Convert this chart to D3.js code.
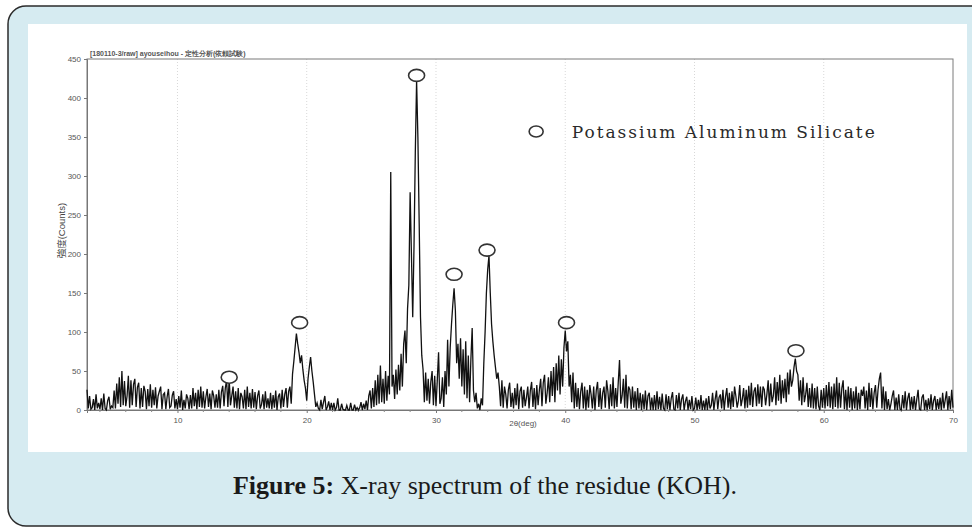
<!DOCTYPE html>
<html>
<head>
<meta charset="utf-8">
<script src="https://cdn.jsdelivr.net/npm/d3@7"></script>
<style>
  html, body { margin: 0; padding: 0; background: #fff; }
  svg { display: block; }
</style>
</head>
<body>
<svg id="fig" width="972" height="529"></svg>
<script>
// 2-theta scan, 3..70 deg, one row per degree (x.0 .. x.9)
var startDeg = 3, stepDeg = 0.1;
var counts = [
  [26,2,18,1,3,14,0,20,2,9],          // 3
  [1,15,0,21,2,0,12,17,1,5],          // 4
  [3,25,2,34,8,42,4,50,6,37],         // 5
  [5,18,44,3,38,6,33,40,4,29],        // 6
  [35,2,28,4,31,24,1,27,5,33],        // 7
  [3,26,6,29,2,18,24,30,1,20],        // 8
  [22,1,17,27,3,5,19,24,2,14],        // 9
  [1,18,3,25,0,13,2,20,15,1],         // 10
  [19,2,28,5,22,1,26,4,30,3],         // 11
  [24,2,17,27,4,21,1,25,18,3],        // 12
  [20,3,26,2,23,31,5,28,38,4],        // 13
  [40,6,18,30,3,24,2,28,1,22],        // 14
  [17,2,26,1,30,4,22,2,27,3],         // 15
  [23,1,18,25,2,7,20,1,24,3],         // 16
  [15,2,22,1,19,3,25,0,17,21],        // 17
  [2,26,4,20,28,3,24,30,8,46],        // 18
  [62,80,98,85,74,60,70,52,38,28],    // 19
  [12,40,55,68,50,36,20,4,9,2],       // 20
  [0,13,1,10,18,0,4,11,0,9],          // 21
  [0,9,0,3,15,0,0,8,1,0],             // 22
  [0,6,0,0,9,0,0,7,0,3],              // 23
  [0,3,10,0,8,1,12,0,18,25],          // 24
  [2,28,4,38,6,45,8,57,10,40],        // 25
  [8,50,12,44,20,305,30,45,14,52],    // 26
  [20,58,25,72,30,85,102,60,130,160], // 27
  [279,200,119,210,330,422,350,240,120,70], // 28
  [52,10,48,12,40,8,36,50,6,44],      // 29
  [5,38,74,8,15,42,4,50,20,90],       // 30
  [30,80,110,135,156,128,60,85,40,92],// 31
  [30,78,20,88,15,70,10,65,105,25],   // 32
  [10,22,2,8,0,15,6,60,100,150],      // 33
  [180,198,150,110,88,70,55,40,48,30],// 34
  [5,38,3,30,20,2,26,35,4,22],        // 35
  [2,28,6,34,1,24,30,3,26,5],         // 36
  [16,30,2,25,36,4,28,1,32,6],        // 37
  [26,40,5,35,45,8,22,42,10,50],      // 38
  [18,55,10,60,25,70,20,65,30,80],    // 39
  [102,75,88,30,45,10,48,2,35,4],     // 40
  [28,1,24,35,2,30,0,26,3,32],        // 41
  [20,2,30,0,25,36,4,28,1,22],        // 42
  [30,3,38,24,1,33,5,42,2,28],        // 43
  [4,35,64,8,18,40,3,45,2,30],        // 44
  [26,1,30,3,24,0,28,2,22,0],         // 45
  [20,1,25,0,18,22,0,16,0,19],        // 46
  [0,24,1,17,0,21,2,0,20,1],          // 47
  [18,0,15,23,1,0,19,2,22,0],         // 48
  [14,20,0,11,17,0,13,1,18,0],        // 49
  [2,16,0,13,1,19,0,12,0,15],         // 50
  [0,18,2,6,22,0,14,25,1,16],         // 51
  [20,2,26,0,17,28,3,22,1,24],        // 52
  [4,30,18,3,12,32,5,14,28,2],        // 53
  [26,3,31,6,35,4,24,29,5,33],        // 54
  [8,30,4,30,26,6,20,38,5,34],        // 55
  [10,18,42,6,36,12,45,8,38,15],      // 56
  [40,10,48,20,52,30,38,55,66,50],    // 57
  [45,12,38,6,42,10,20,35,4,28],      // 58
  [3,34,2,28,1,30,5,0,26,3],          // 59
  [28,2,32,5,36,3,30,1,34,4],         // 60
  [42,2,35,3,28,38,1,26,0,30],        // 61
  [3,28,0,24,2,30,0,22,1,26],         // 62
  [18,30,2,25,0,35,4,28,1,22],        // 63
  [32,3,26,40,48,2,30,0,24,1],        // 64
  [14,0,8,18,25,0,16,0,20,1],         // 65
  [0,19,2,24,0,15,22,0,17,1],         // 66
  [18,0,14,26,1,0,16,20,0,13],        // 67
  [0,15,1,20,0,12,18,0,14,1],         // 68
  [16,0,22,2,13,24,0,18,1,26],        // 69
  [3]                                 // 70.0
];

// peaks marked with open circles (2theta, counts where circle sits)
var markDeg = [14.0, 19.45, 28.5, 31.4, 33.95, 40.1, 57.85];
var markCnt = [42, 112, 429, 174, 205, 112, 76];

var yTicks = [0, 50, 100, 150, 200, 250, 300, 350, 400, 450];
var xTicks = [10, 20, 30, 40, 50, 60, 70];
var minorTicks = d3.range(4, 70, 2);

var headerText = "[180110-3/raw] ayouseihou - 定性分析(依頼試験)";
var legendText = "Potassium Aluminum Silicate";

var svg = d3.select("#fig");

// card
svg.append("rect")
  .attr("x", 8).attr("y", 6).attr("width", 1000).attr("height", 520)
  .attr("rx", 18).attr("ry", 18)
  .style("fill", "#d6ebf1").style("stroke", "#2b2b2b").style("stroke-width", 1.5);

// scanned image area
svg.append("rect")
  .attr("x", 28).attr("y", 24).attr("width", 939).attr("height", 428)
  .style("fill", "#fff");

var x = d3.scaleLinear().domain([3, 70]).range([87, 953]);
var y = d3.scaleLinear().domain([0, 450]).range([410, 59]);

var pts = [];
counts.forEach(function(row, r) {
  row.forEach(function(v, c) {
    pts.push({ deg: startDeg + r + c * stepDeg, v: v });
  });
});

// faint vertical grid
svg.append("g").selectAll("line")
  .data([10, 20, 30, 40, 50, 60])
  .enter().append("line")
  .attr("x1", function(d) { return x(d); }).attr("x2", function(d) { return x(d); })
  .attr("y1", y(450)).attr("y2", y(0))
  .style("stroke", "#d8d8d8").style("stroke-width", 1).style("stroke-dasharray", "1,2");

// frame
svg.append("rect")
  .attr("x", x(3)).attr("y", y(450))
  .attr("width", x(70) - x(3)).attr("height", y(0) - y(450))
  .style("fill", "none").style("stroke", "#7a7a7a").style("stroke-width", 1);

// y axis
var yAxis = d3.axisLeft(y).tickValues(yTicks).tickSize(3).tickPadding(3);
var gy = svg.append("g").attr("transform", "translate(" + x(3) + ",0)").call(yAxis);
gy.select(".domain").style("stroke", "#777");
gy.selectAll("line").style("stroke", "#777");
gy.selectAll("text").style("font-family", "Liberation Sans").style("font-size", "8px").style("fill", "#555");

// x axis
var xAxis = d3.axisBottom(x).tickValues(xTicks).tickSize(3).tickPadding(4);
var gx = svg.append("g").attr("transform", "translate(0," + y(0) + ")").call(xAxis);
gx.select(".domain").style("stroke", "#777");
gx.selectAll("line").style("stroke", "#777");
gx.selectAll("text").style("font-family", "Liberation Sans").style("font-size", "8px").style("fill", "#555");

svg.append("g").selectAll("line")
  .data(minorTicks.filter(function(d) { return d % 10 != 0; }))
  .enter().append("line")
  .attr("x1", function(d) { return x(d); }).attr("x2", function(d) { return x(d); })
  .attr("y1", y(0)).attr("y2", y(0) + 2)
  .style("stroke", "#888");

// spectrum
var line = d3.line()
  .x(function(d) { return x(d.deg); })
  .y(function(d) { return y(d.v); });

svg.append("path")
  .datum(pts)
  .attr("d", line)
  .style("fill", "none").style("stroke", "#111").style("stroke-width", 1.3)
  .style("stroke-linejoin", "miter");

// peak markers
svg.append("g").selectAll("ellipse")
  .data(markDeg)
  .enter().append("ellipse")
  .attr("cx", function(d) { return x(d); })
  .attr("cy", function(d, i) { return y(markCnt[i]); })
  .attr("rx", 8).attr("ry", 6)
  .style("fill", "#fff").style("stroke", "#333").style("stroke-width", 1.6);

// legend
svg.append("ellipse")
  .attr("cx", x(37.75)).attr("cy", y(357))
  .attr("rx", 7).attr("ry", 5.5)
  .style("fill", "none").style("stroke", "#333").style("stroke-width", 1.6);
svg.append("text")
  .attr("x", x(40.5)).attr("y", y(357) + 6)
  .attr("textLength", 303).attr("lengthAdjust", "spacing")
  .style("font-family", "DejaVu Serif").style("font-size", "17px").style("fill", "#2a2a2a")
  .text(legendText);

// header + axis titles
svg.append("text")
  .attr("x", x(3) + 3).attr("y", y(450) - 3)
  .style("font-family", "Liberation Sans").style("font-size", "7px").style("font-weight", "bold").style("fill", "#555")
  .text(headerText);

svg.append("text")
  .attr("transform", "translate(65," + y(230) + ") rotate(-90)")
  .attr("text-anchor", "middle")
  .style("font-family", "Liberation Sans, Noto Sans CJK JP").style("font-size", "9.5px").style("fill", "#444")
  .text("強度(Counts)");

svg.append("text")
  .attr("x", 523).attr("y", 426)
  .attr("text-anchor", "middle")
  .style("font-family", "Liberation Sans").style("font-size", "8px").style("fill", "#555")
  .text("2θ(deg)");

// caption
var cap = svg.append("text")
  .attr("x", 485).attr("y", 494)
  .attr("text-anchor", "middle")
  .attr("textLength", 504).attr("lengthAdjust", "spacingAndGlyphs")
  .style("font-family", "Liberation Serif").style("font-size", "25px").style("fill", "#1a1a1a");
cap.append("tspan").style("font-weight", "bold").text("Figure 5:");
cap.append("tspan").text(" X-ray spectrum of the residue (KOH).");
</script>
</body>
</html>
